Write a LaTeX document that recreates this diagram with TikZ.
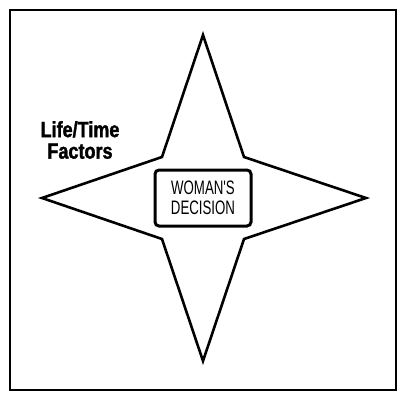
\documentclass[tikz,border=0pt]{standalone}
\usepackage{fontspec}
\newfontfamily\boxfont[FakeStretch=0.68]{Liberation Sans}
\newfontfamily\lifefont[FakeStretch=0.82,FakeBold=1.5]{Liberation Sans}
\usetikzlibrary{positioning}

\begin{document}
\begin{tikzpicture}[
  x=1pt, y=-1pt,
  star/.style={draw, line width=2.6pt, line join=miter, fill=white},
  decision/.style={draw, line width=3pt, rounded corners=4pt, minimum width=96pt,
    minimum height=56pt, align=center, inner sep=0pt,
    font={\boxfont\fontsize{19.5}{20}\selectfont}},
  factors/.style={align=center, inner sep=0pt,
    font={\lifefont\bfseries\fontsize{22}{21.5}\selectfont}}
]
  \useasboundingbox (0,0) rectangle (400,392);
  \draw[line width=2.5pt] (10,10) rectangle (396,390);

  % four-pointed star
  \coordinate (c) at (203,198);
  \draw[star] (203,35) -- (244,157) -- (366,198) -- (244,239)
    -- (203,361) -- (162,239) -- (42,198) -- (162,157) -- cycle;

  \node[decision] (woman) at (c) {WOMAN'S\\DECISION};
  \node[factors] (life) at (80,140) {Life/Time\\Factors};
\end{tikzpicture}
\end{document}
